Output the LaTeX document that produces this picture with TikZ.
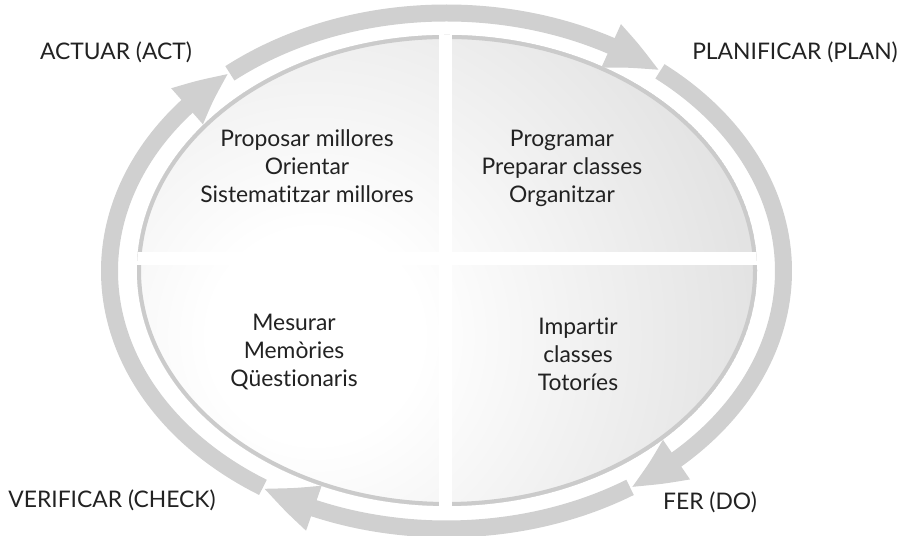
\documentclass[tikz,border=0pt]{standalone}
\usepackage{fontspec}
\setmainfont{Lato}[Ligatures=NoCommon]
\usetikzlibrary{arrows.meta,bending,calc,positioning}

\definecolor{ringgray}{RGB}{208,208,208}
\definecolor{rimgray}{RGB}{190,190,190}
\definecolor{txtgray}{RGB}{34,34,34}
\pgfdeclareradialshading{discshade}{\pgfpoint{0bp}{0bp}}{%
  color(0bp)=(white); color(3bp)=(white);
  color(25bp)=(rimgray); color(50bp)=(rimgray)}

\begin{document}
\begin{tikzpicture}[x=0.02cm,y=0.02cm,
  ringarrow/.style={draw=ringgray,line width=0.34cm,
    -{Triangle[length=1.1cm,width=0.86cm,bend]}},
  phase/.style={anchor=base,text=txtgray,font=\fontsize{13}{16}\selectfont},
  task/.style={anchor=base,align=center,text=txtgray,
    font=\fontsize{13}{16.1}\selectfont}]
  \useasboundingbox (0,0) rectangle (903,536);

  \coordinate (C) at (446.5,265);   % centre of the ring
  \coordinate (E) at (447,265.5);   % centre of the disc

  % shaded disc cut in four
  \begin{scope}
    \clip (E) ellipse [x radius=310,y radius=235.5];
    \fill[rimgray] (E) ellipse [x radius=310,y radius=235.5];
    \shade[shading=discshade] (315,200) circle [radius=880];
    \draw[rimgray!80,line width=0.16cm] (E) ellipse [x radius=310,y radius=235.5];
    \fill[white] (439,0) rectangle (452,536);
    \fill[white] (0,271) rectangle (903,284);
  \end{scope}

  % tips of the four arrows
  \coordinate (tAct)   at ($(C)+(130:337 and 258)$);
  \coordinate (tPlan)  at ($(C)+(50.7:337 and 258)$);
  \coordinate (tDo)    at ($(C)+(-57:337 and 258)$);
  \coordinate (tCheck) at ($(C)+(-123:337 and 258)$);

  \draw[ringarrow] (tAct) arc[start angle=130,end angle=50.7,x radius=337,y radius=258];
  \draw[ringarrow] (tPlan) arc[start angle=50.7,end angle=-57,x radius=337,y radius=258];
  \draw[ringarrow] (tDo) arc[start angle=-57,end angle=-123,x radius=337,y radius=258];
  \draw[ringarrow] (tCheck) arc[start angle=-123,end angle=-230,x radius=337,y radius=258];

  \node[phase] (act)   at (116,476) {ACTUAR (ACT)};
  \node[phase] (plan)  at (795,476) {PLANIFICAR (PLAN)};
  \node[phase] (check) at (112,28)  {VERIFICAR (CHECK)};
  \node[phase] (do)    at (710,26)  {FER (DO)};

  % base of a task node is the baseline of its last line
  \node[task] (tl) at (307,333) {Proposar millores\\Orientar\\Sistematitzar millores};
  \node[task] (tr) at (562,333) {Programar\\Preparar classes\\Organitzar};
  \node[task] (bl) at (294,149) {Mesurar\\Memòries\\Qüestionaris};
  \node[task] (br) at (578,145) {Impartir\\classes\\Totoríes};
\end{tikzpicture}
\end{document}
